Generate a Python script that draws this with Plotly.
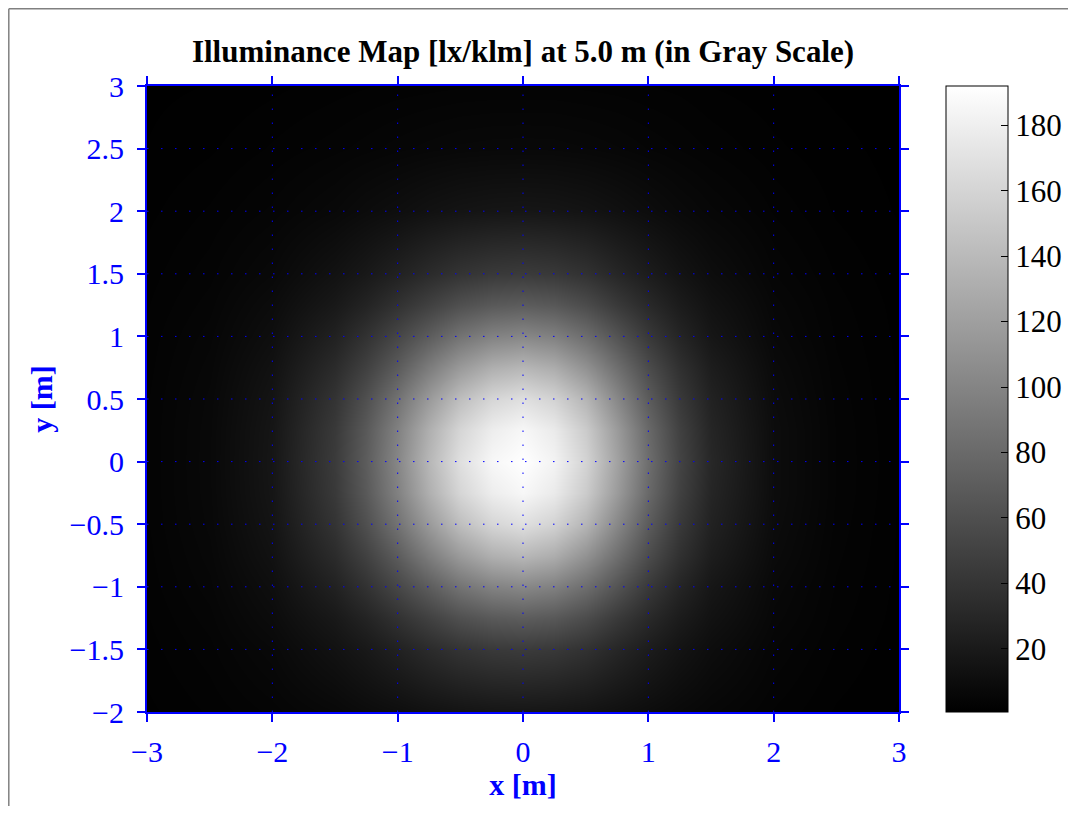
import plotly.graph_objects as go

# ---- data (values read/estimated from the reference picture) ----
x_vals = [-3, -2.5, -2, -1.5, -1.25, -1, -0.75, -0.5, -0.25, 0,
          0.25, 0.5, 0.75, 1, 1.25, 1.5, 2, 2.5, 3]
y_vals = [-2, -1.5, -1.25, -1, -0.75, -0.5, -0.25, 0,
          0.25, 0.5, 0.75, 1, 1.25, 1.5, 2, 2.5, 3]

# illuminance rows [lx/klm]; one list per |y| value (map is symmetric in y)
row_y_0_00 = [3.3, 7, 17, 45, 70, 102, 138, 168, 186, 192, 183, 159, 122, 83, 51, 30, 10, 4, 1.9]
row_y_0_25 = [3.3, 6.9, 16.6, 43.6, 67.5, 98.1, 132.2, 160.9, 178.5, 186, 176.4, 152.8, 117, 79.4, 48.8, 28.5, 10, 4, 1.8]
row_y_0_50 = [3.2, 6.6, 15.5, 39.5, 60.4, 86.9, 116.2, 143.1, 160.9, 168, 158.6, 136.3, 102.7, 69.6, 43.3, 26, 9.3, 3.8, 1.7]
row_y_0_75 = [3, 6, 13.7, 33, 49.2, 70, 94.2, 116.2, 132.2, 138, 130.2, 109.9, 83.9, 57.7, 36.6, 22.2, 8.3, 3.5, 1.7]
row_y_1_00 = [2.8, 5.3, 11.3, 25.7, 38.1, 53.6, 70, 86.9, 98.1, 102, 96.7, 82.4, 63.1, 43.4, 27.9, 17.3, 6.9, 3.2, 1.6]
row_y_1_25 = [2.5, 4.5, 9.3, 19.1, 27.2, 38.1, 49.2, 60.4, 67.5, 70, 66.7, 57.4, 43.8, 31.5, 21.1, 13.9, 6, 2.9, 1.5]
row_y_1_50 = [2.2, 3.8, 7, 14.1, 19.1, 25.7, 33, 39.5, 43.6, 45, 43.1, 37.8, 29.4, 21.8, 15.1, 10.4, 4.8, 2.5, 1.3]
row_y_2_00 = [1.6, 2.7, 4.3, 7, 9.3, 11.3, 13.7, 15.5, 16.6, 17, 16.5, 15.1, 12.8, 10.1, 7.6, 5.8, 3.2, 1.7, 1]
row_y_2_50 = [1.1, 1.7, 2.7, 3.8, 4.5, 5.3, 6, 6.6, 6.9, 7, 6.9, 6.4, 5.7, 4.8, 4, 3.2, 2, 1.3, 0.8]
row_y_3_00 = [0.9, 1.1, 1.6, 2.2, 2.5, 2.8, 3, 3.2, 3.3, 3.3, 3.3, 3.1, 2.9, 2.6, 2.3, 1.8, 1.3, 0.9, 0.7]

z_vals = [row_y_2_00, row_y_1_50, row_y_1_25, row_y_1_00, row_y_0_75, row_y_0_50,
          row_y_0_25, row_y_0_00, row_y_0_25, row_y_0_50, row_y_0_75, row_y_1_00,
          row_y_1_25, row_y_1_50, row_y_2_00, row_y_2_50, row_y_3_00]

x_ticks = [-3, -2, -1, 0, 1, 2, 3]
y_ticks = [-2, -1.5, -1, -0.5, 0, 0.5, 1, 1.5, 2, 2.5, 3]
cbar_ticks = [20, 40, 60, 80, 100, 120, 140, 160, 180]
z_min, z_max = 0.7, 192

title_text = "Illuminance Map [lx/klm] at 5.0 m (in Gray Scale)"
x_label = "x [m]"
y_label = "y [m]"

FONT = "Liberation Serif, Times New Roman, serif"
BLUE = "#0000FF"

# page has an 8 px body margin; figure sized so the page does not scroll
W, H = 1060, 798
ML, MR, MT, MB = 139, 169, 78, 94
PW, PH = W - ML - MR, H - MT - MB  # 752 x 626
CB_LEFT = 946 - 8          # colorbar left edge in figure pixels
CB_THICK = 62

fig = go.Figure()
fig.add_trace(go.Heatmap(
    x=x_vals, y=y_vals, z=z_vals, zsmooth="best",
    zmin=z_min, zmax=z_max,
    colorscale=[[0, "black"], [1, "white"]],
    colorbar=dict(
        x=CB_LEFT / W, xanchor="left", xref="container",
        y=0.5, yanchor="middle", len=1, lenmode="fraction",
        thickness=CB_THICK, thicknessmode="pixels", xpad=0, ypad=0,
        outlinewidth=1, outlinecolor="black",
        ticks="inside", ticklen=7, tickcolor="black", tickwidth=1,
        tickvals=cbar_ticks,
        tickfont=dict(family=FONT, size=31, color="black"),
    ),
    hoverinfo="skip",
))

shapes = []
# dotted blue grid drawn above the image
for xv in x_ticks[1:-1]:
    shapes.append(dict(type="line", xref="x", yref="y", x0=xv, x1=xv,
                       y0=y_ticks[0], y1=y_ticks[-1], layer="above",
                       line=dict(color=BLUE, width=1, dash="1.5px,12.5px")))
for yv in y_ticks[1:-1]:
    shapes.append(dict(type="line", xref="x", yref="y", y0=yv, y1=yv,
                       x0=x_ticks[0], x1=x_ticks[-1], layer="above",
                       line=dict(color=BLUE, width=1, dash="1.5px,12.5px")))
# colorbar ticks on the left edge of the bar (mirrored ticks)
cb_x_paper = (CB_LEFT - ML) / PW
for v in cbar_ticks:
    yp = (v - z_min) / (z_max - z_min)
    shapes.append(dict(type="line", xref="paper", yref="paper",
                       x0=cb_x_paper, x1=cb_x_paper + 7 / PW, y0=yp, y1=yp,
                       line=dict(color="black", width=1), layer="above"))
# outer figure frame: only the top and left edges are visible
frame_left = (0.8 - ML) / PW
frame_top = (PH + MT - 0.8) / PH
shapes.append(dict(type="line", xref="paper", yref="paper",
                   x0=frame_left, x1=(W - ML) / PW, y0=frame_top, y1=frame_top,
                   line=dict(color="#808080", width=1.5), layer="below"))
shapes.append(dict(type="line", xref="paper", yref="paper",
                   x0=frame_left, x1=frame_left, y0=frame_top, y1=-MB / PH,
                   line=dict(color="#808080", width=1.5), layer="below"))

axis_common = dict(
    showline=True, linecolor=BLUE, linewidth=2, mirror="allticks",
    ticks="outside", ticklen=8, tickwidth=1.5, tickcolor=BLUE,
    showgrid=False, zeroline=False,
    tickfont=dict(family=FONT, size=30, color=BLUE),
)

fig.update_layout(
    width=W, height=H,
    margin=dict(l=ML, r=MR, t=MT, b=MB, autoexpand=False),
    paper_bgcolor="white", plot_bgcolor="black",
    title=dict(text="<b>" + title_text + "</b>", x=0.5, xref="paper",
               xanchor="center", y=1 - 43 / H, yanchor="middle",
               font=dict(family=FONT, size=31, color="black")),
    xaxis=dict(range=[-3, 3], tickvals=x_ticks, ticklabelstandoff=4,
               title=dict(text="<b>" + x_label + "</b>", standoff=5,
                          font=dict(family=FONT, size=30, color=BLUE)),
               **axis_common),
    yaxis=dict(range=[-2, 3], tickvals=y_ticks, ticklabelstandoff=7,
               title=dict(text="<b>" + y_label + "</b>", standoff=8,
                          font=dict(family=FONT, size=30, color=BLUE)),
               **axis_common),
    shapes=shapes,
    showlegend=False,
)

fig.write_html("out.html")
